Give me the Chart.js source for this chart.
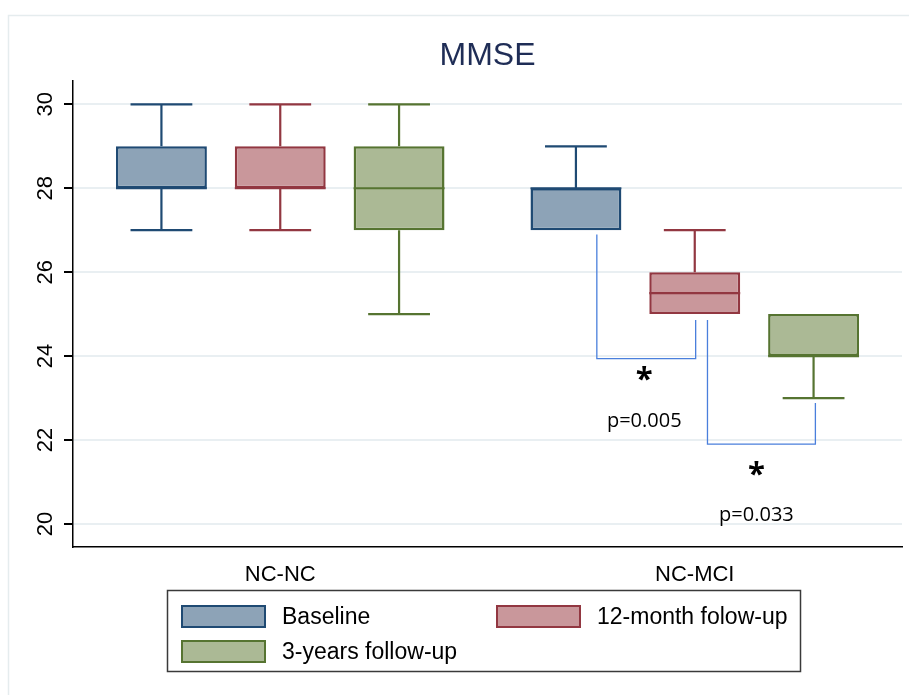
<!DOCTYPE html>
<html>
<head>
<meta charset="utf-8">
<script src="https://cdn.jsdelivr.net/npm/chart.js@4.4.1/dist/chart.umd.min.js"></script>
<style>
  html, body { margin: 0; padding: 0; background: #ffffff; }
  canvas { display: block; }
</style>
</head>
<body>
<canvas id="c" width="909" height="695"></canvas>
<script>
// ---- data ----
const categories = ['NC-NC', 'NC-MCI'];
const seriesNames = ['Baseline', '12-month folow-up', '3-years follow-up'];

const baselineMin = [27, 27];
const baselineQ1 = [28, 27];
const baselineMedian = [28, 28];
const baselineQ3 = [29, 28];
const baselineMax = [30, 29];

const month12Min = [27, 25];
const month12Q1 = [28, 25];
const month12Median = [28, 25.5];
const month12Q3 = [29, 26];
const month12Max = [30, 27];

const year3Min = [25, 23];
const year3Q1 = [27, 24];
const year3Median = [28, 24];
const year3Q3 = [29, 25];
const year3Max = [30, 25];

const yTickValues = [20, 22, 24, 26, 28, 30];

// significance brackets (dataset indices, category index, values on the y scale)
const bracketFrom = [0, 1];
const bracketTo = [1, 2];
const bracketCategory = [1, 1];
const bracketFromTop = [26.9, 24.86];
const bracketToTop = [24.86, 22.88];
const bracketBottom = [23.94, 21.9];
const starValue = [23.62, 21.36];
const pValue = [22.45, 20.21];
const pLabels = ['p=0.005', 'p=0.033'];

// ---- styles ----
const fills = ['#8da3b7', '#c9979b', '#abb995'];
const borders = ['#1f4a73', '#923741', '#567431'];
const FONT = "'Liberation Sans', Arial, sans-serif";

const stats = [
  { min: baselineMin, q1: baselineQ1, med: baselineMedian, q3: baselineQ3, max: baselineMax },
  { min: month12Min, q1: month12Q1, med: month12Median, q3: month12Q3, max: month12Max },
  { min: year3Min, q1: year3Q1, med: year3Median, q3: year3Q3, max: year3Max }
];

const datasets = stats.map((s, i) => ({
  label: seriesNames[i],
  data: s.q1.map((v, j) => [v, s.q3[j]]),
  backgroundColor: fills[i],
  borderColor: borders[i],
  borderWidth: 2.5,
  borderSkipped: false,
  categoryPercentage: 0.86,
  barPercentage: 0.765
}));

const framePlugin = {
  id: 'frame',
  beforeDraw(chart) {
    const ctx = chart.ctx;
    ctx.save();
    ctx.fillStyle = '#ffffff';
    ctx.fillRect(0, 0, chart.width, chart.height);
    ctx.strokeStyle = '#e5ecee';
    ctx.lineWidth = 1.5;
    ctx.strokeRect(8.5, 15.5, chart.width + 20, chart.height + 20);
    ctx.restore();
  }
};

const boxPlugin = {
  id: 'boxes',
  afterDatasetsDraw(chart) {
    const ctx = chart.ctx;
    const yS = chart.scales.y;
    ctx.save();
    stats.forEach((s, i) => {
      const meta = chart.getDatasetMeta(i);
      meta.data.forEach((bar, j) => {
        const x = bar.x, w = bar.width;
        ctx.strokeStyle = borders[i];
        ctx.lineWidth = 2.2;
        const yq1 = yS.getPixelForValue(s.q1[j]);
        const yq3 = yS.getPixelForValue(s.q3[j]);
        const ymin = yS.getPixelForValue(s.min[j]);
        const ymax = yS.getPixelForValue(s.max[j]);
        const ymed = yS.getPixelForValue(s.med[j]);
        const cap = w * 0.34;
        ctx.beginPath();
        if (s.max[j] > s.q3[j]) {
          ctx.moveTo(x, yq3); ctx.lineTo(x, ymax);
          ctx.moveTo(x - cap, ymax); ctx.lineTo(x + cap, ymax);
        }
        if (s.min[j] < s.q1[j]) {
          ctx.moveTo(x, yq1); ctx.lineTo(x, ymin);
          ctx.moveTo(x - cap, ymin); ctx.lineTo(x + cap, ymin);
        }
        ctx.moveTo(x - w / 2, ymed); ctx.lineTo(x + w / 2, ymed);
        ctx.stroke();
      });
    });

    // significance brackets
    const legOffsetFrom = [0.23, 0.14];
    const legOffsetTo = [0.01, 0.02];
    bracketFrom.forEach((a, k) => {
      const b = bracketTo[k];
      const c = bracketCategory[k];
      const barA = chart.getDatasetMeta(a).data[c];
      const barB = chart.getDatasetMeta(b).data[c];
      const xa = barA.x + barA.width * legOffsetFrom[k];
      const xb = barB.x + barB.width * legOffsetTo[k];
      const yb = yS.getPixelForValue(bracketBottom[k]);
      ctx.strokeStyle = '#4a7fdc';
      ctx.lineWidth = 1.3;
      ctx.beginPath();
      ctx.moveTo(xa, yS.getPixelForValue(bracketFromTop[k]));
      ctx.lineTo(xa, yb);
      ctx.lineTo(xb, yb);
      ctx.lineTo(xb, yS.getPixelForValue(bracketToTop[k]));
      ctx.stroke();
      const xm = (xa + xb) / 2 - (k === 1 ? 5 : 2);
      ctx.fillStyle = '#000000';
      ctx.textAlign = 'center';
      ctx.textBaseline = 'alphabetic';
      ctx.font = "bold 31px 'Open Sans', sans-serif";
      ctx.fillText('*', xm, yS.getPixelForValue(starValue[k]) + 17);
      ctx.textBaseline = 'middle';
      ctx.font = "20px 'Open Sans', sans-serif";
      ctx.fillText(pLabels[k], xm, yS.getPixelForValue(pValue[k]));
    });
    ctx.restore();
  },
  afterDraw(chart) {
    const ctx = chart.ctx;
    const yS = chart.scales.y;
    ctx.save();
    // rotated y tick labels
    ctx.fillStyle = '#000000';
    ctx.font = '22px ' + FONT;
    ctx.textAlign = 'center';
    ctx.textBaseline = 'middle';
    yTickValues.forEach(v => {
      ctx.save();
      ctx.translate(46, yS.getPixelForValue(v));
      ctx.rotate(-Math.PI / 2);
      ctx.fillText(String(v), 0, 0);
      ctx.restore();
    });

    // legend box
    ctx.strokeStyle = '#3a3a3a';
    ctx.lineWidth = 1.5;
    ctx.strokeRect(167.5, 590.5, 633, 81);
    const items = [
      { x: 181, y: 605 },
      { x: 496, y: 605 },
      { x: 181, y: 640 }
    ];
    ctx.font = '23px ' + FONT;
    ctx.textAlign = 'left';
    ctx.textBaseline = 'middle';
    chart.data.datasets.forEach((ds, i) => {
      const it = items[i];
      ctx.fillStyle = ds.backgroundColor;
      ctx.fillRect(it.x, it.y, 85, 23);
      ctx.strokeStyle = ds.borderColor;
      ctx.lineWidth = 2;
      ctx.strokeRect(it.x + 1, it.y + 1, 83, 21);
      ctx.fillStyle = '#000000';
      ctx.fillText(ds.label, it.x + 101, it.y + 13);
    });
    ctx.restore();
  }
};

new Chart(document.getElementById('c'), {
  type: 'bar',
  data: { labels: categories, datasets: datasets },
  options: {
    responsive: false,
    animation: false,
    layout: { padding: { left: 0, right: 7, top: 20, bottom: 0 } },
    plugins: {
      legend: { display: false },
      tooltip: { enabled: false },
      title: {
        display: true,
        text: 'MMSE',
        fullSize: false,
        color: '#1f2d56',
        font: { family: FONT, size: 32, weight: 'normal' },
        padding: { top: 17, bottom: 5 }
      }
    },
    scales: {
      x: {
        grid: { display: false },
        border: { display: true, color: '#000000', width: 1.5 },
        ticks: { color: '#000000', font: { family: FONT, size: 22 }, padding: 7 },
        afterFit(s) { s.height = 148; }
      },
      y: {
        min: 19.45,
        max: 30.57,
        grid: { color: '#e9eff2', lineWidth: 2, tickColor: '#000000', tickLength: 9 },
        border: { display: true, color: '#000000', width: 1.5 },
        ticks: { callback: () => '' },
        afterBuildTicks(s) { s.ticks = yTickValues.map(v => ({ value: v })); },
        afterFit(s) { s.width = 73; }
      }
    }
  },
  plugins: [framePlugin, boxPlugin]
});
</script>
</body>
</html>
